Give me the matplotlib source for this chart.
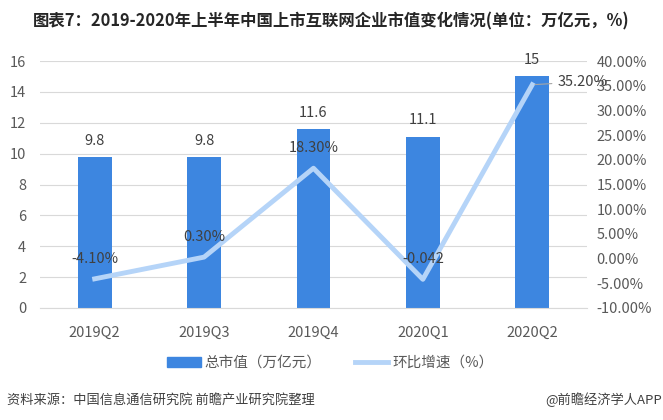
import matplotlib
matplotlib.use('Agg')
import matplotlib.pyplot as plt
import numpy as np

plt.rcParams['font.family'] = ['Noto Sans CJK SC', 'DejaVu Sans']

quarters = ['2019Q2', '2019Q3', '2019Q4', '2020Q1', '2020Q2']
market_value = [9.8, 9.8, 11.6, 11.1, 15]
growth = [-4.1, 0.3, 18.3, -4.2, 35.2]
growth_labels = ['-4.10%', '0.30%', '18.30%', '-0.042', '35.20%']

bar_color = '#3d86e0'
line_color = '#b5d4f8'
txt = '#404040'

fig = plt.figure(figsize=(6.63, 4.2), dpi=100)
ax = fig.add_axes([0.0603, 0.2667, 0.825, 0.588])
x = np.arange(len(quarters))
ax.bar(x, market_value, width=0.31, color=bar_color, zorder=2)
ax.set_ylim(0, 16)
ax.set_yticks(range(0, 17, 2))
ax.set_xlim(-0.5, 4.5)
ax.set_xticks(x)
ax.set_xticklabels(quarters)
ax.grid(axis='y', color='#d9d9d9', lw=0.8, zorder=0)
for s in ['top', 'right', 'left']:
    ax.spines[s].set_visible(False)
ax.spines['bottom'].set_color('#d9d9d9')
ax.tick_params(length=0, colors='#595959', labelsize=10.5)
ax.tick_params(axis='x', pad=13)
ax.tick_params(axis='y', pad=10)
for xi, v in zip(x, market_value):
    ax.text(xi, v + 1.05, f'{v:g}', ha='center', va='center', fontsize=10.5, color=txt)

ax2 = ax.twinx()
ax2.plot(x, growth, color=line_color, lw=3.5, zorder=3)
ax2.set_ylim(-10, 40)
ax2.set_yticks(range(-10, 41, 5))
ax2.set_yticklabels([f'{t:.2f}%' for t in range(-10, 41, 5)])
for s in ax2.spines.values():
    s.set_visible(False)
ax2.tick_params(length=0, colors='#595959', labelsize=10.5, pad=7)

for i in range(4):
    ax2.text(x[i], growth[i] + 4.1, growth_labels[i],
             ha='center', va='center', fontsize=10.5, color=txt)
ax2.annotate(growth_labels[4], xy=(x[4], growth[4]), xytext=(x[4] + 0.23, growth[4] + 0.6),
             ha='left', va='center', fontsize=10.5, color=txt,
             arrowprops=dict(arrowstyle='-', color='#a6a6a6', lw=0.8))

fig.text(0.5, 0.95, '图表7：2019-2020年上半年中国上市互联网企业市值变化情况(单位：万亿元，%)',
         ha='center', va='center', fontsize=11.8, fontweight='bold', color='#262626')

h1 = plt.Rectangle((0, 0), 1, 1, color=bar_color)
h2 = plt.Line2D([0], [0], color=line_color, lw=3.5)
fig.legend([h1, h2], ['总市值（万亿元）', '环比增速（%）'], loc='center',
           bbox_to_anchor=(0.498, 0.136), ncol=2, frameon=False, fontsize=10.5,
           handlelength=2.3, handletextpad=0.25, columnspacing=2.3, labelcolor='#595959')

fig.text(0.011, 0.048, '资料来源：中国信息通信研究院 前瞻产业研究院整理', ha='left', va='center',
         fontsize=9.5, color='#404040')
fig.text(0.998, 0.048, '@前瞻经济学人APP', ha='right', va='center', fontsize=9.5, color='#404040')

fig.savefig('out.png', dpi=100)
